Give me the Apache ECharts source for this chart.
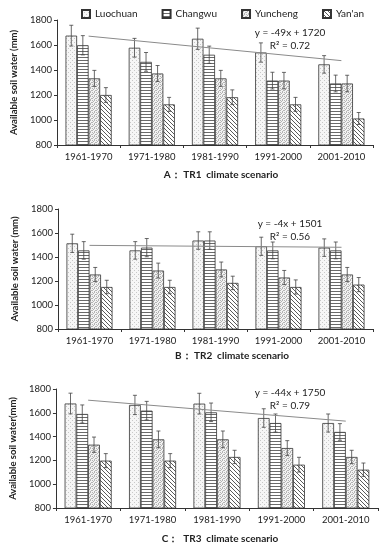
<!DOCTYPE html>
<html><head><meta charset="utf-8">
<script src="https://cdn.jsdelivr.net/npm/echarts@6/dist/echarts.min.js"></script>
<style>html,body{margin:0;padding:0;background:#fff}#c{width:382px;height:550px}</style>
</head><body><div id="c"></div>
<script>
const categories = ['1961-1970','1971-1980','1981-1990','1991-2000','2001-2010'];
const stations = ['Luochuan','Changwu','Yuncheng',"Yan'an"];
const yTicks = [800,1000,1200,1400,1600,1800];

// Panel A (TR1)
const A_Luochuan = [1675, 1578, 1650, 1540, 1445];
const A_Changwu  = [1598, 1465, 1522, 1315, 1292];
const A_Yuncheng = [1333, 1372, 1333, 1315, 1292];
const A_Yanan    = [1200, 1125, 1182, 1125, 1012];
const A_errLuochuan = [83, 75, 85, 77, 70];
const A_errChangwu  = [77, 75, 69, 67, 67];
const A_errYuncheng = [64, 64, 64, 66, 66];
const A_errYanan    = [59, 56, 59, 56, 48];
const A_trend = [1671, 1475];

// Panel B (TR2)
const B_Luochuan = [1514, 1455, 1537, 1489, 1478];
const B_Changwu  = [1455, 1478, 1537, 1455, 1455];
const B_Yuncheng = [1254, 1287, 1296, 1229, 1254];
const B_Yanan    = [1150, 1150, 1184, 1150, 1170];
const B_errLuochuan = [76, 73, 73, 76, 73];
const B_errChangwu  = [73, 76, 73, 70, 70];
const B_errYuncheng = [59, 62, 62, 59, 59];
const B_errYanan    = [56, 56, 56, 59, 59];
const B_trend = [1497, 1481];

// Panel C (TR3)
const C_Luochuan = [1678, 1666, 1677, 1556, 1514];
const C_Changwu  = [1590, 1618, 1604, 1514, 1439];
const C_Yuncheng = [1332, 1377, 1377, 1304, 1229];
const C_Yanan    = [1198, 1198, 1229, 1164, 1122];
const C_errLuochuan = [87, 81, 87, 78, 76];
const C_errChangwu  = [76, 78, 78, 76, 70];
const C_errYuncheng = [64, 70, 70, 62, 56];
const C_errYanan    = [59, 59, 56, 62, 56];
const C_trend = [1706, 1530];

const panels = [
  {vals:[A_Luochuan,A_Changwu,A_Yuncheng,A_Yanan], errs:[A_errLuochuan,A_errChangwu,A_errYuncheng,A_errYanan], trend:A_trend,
   yName:'Available soil water (mm)', caption:'A： TR1  climate scenario', eq:'y = -49x + 1720', r2:'R² = 0.72'},
  {vals:[B_Luochuan,B_Changwu,B_Yuncheng,B_Yanan], errs:[B_errLuochuan,B_errChangwu,B_errYuncheng,B_errYanan], trend:B_trend,
   yName:'Available soil water (mm)', caption:'B： TR2  climate scenario', eq:'y = -4x + 1501', r2:'R² = 0.56'},
  {vals:[C_Luochuan,C_Changwu,C_Yuncheng,C_Yanan], errs:[C_errLuochuan,C_errChangwu,C_errYuncheng,C_errYanan], trend:C_trend,
   yName:'Available soil water(mm)', caption:'C：  TR3  climate scenario', eq:'y = -44x + 1750', r2:'R² = 0.79'}
];

// layout
const grids = [
  {left:57, right:9, top:20, height:125},
  {left:58, right:9, top:209, height:120},
  {left:53, right:4, top:389, height:119}
];
const captionPos = [{x:221,y:170},{x:232,y:351},{x:220,y:534}];
const eqPos = [{x:290,y:28},{x:290,y:219},{x:290,y:388}];
const GAP = 0.27;

function makePattern(kind){
  const c = document.createElement('canvas');
  const s = 4; c.width = s; c.height = s;
  const g = c.getContext('2d');
  g.fillStyle = '#fff'; g.fillRect(0,0,s,s);
  if(kind===0){ g.fillStyle='#f6f6f6'; g.fillRect(0,0,s,s); g.fillStyle='#c8c8c8'; g.fillRect(0,0,1,1); g.fillRect(2,2,1,1); }
  else if(kind===1){ c.height=3; g.fillStyle='#fff'; g.fillRect(0,0,s,3); g.fillStyle='#6a6a6a'; g.fillRect(0,0,s,1); }
  else if(kind===2){ g.fillStyle='#f2f2f2'; g.fillRect(0,0,s,s); g.fillStyle='#b4b4b4'; g.fillRect(0,0,1,1); g.fillRect(2,0,1,1); g.fillRect(1,1,1,1); g.fillRect(3,2,1,1); g.fillRect(0,2,1,1); g.fillRect(2,3,1,1); }
  else { g.fillStyle='#5a5a5a'; for(let i=0;i<s;i++){ g.fillRect(i,i,1,1);} }
  return {image:c, repeat:'repeat'};
}
const patterns = [0,1,2,3].map(makePattern);

const FONT = 'Lato, "Open Sans", sans-serif';
const TXT = '#222';

function errRender(params, api){
  const cat = api.value(0), val = api.value(1), err = api.value(2), si = api.value(3);
  const band = api.size([1,0])[0];
  const total = band*(1-GAP), bw = total/4;
  const cx = api.coord([cat,val])[0] - total/2 + bw*(si+0.5);
  const yT = api.coord([cat,val+err])[1], yB = api.coord([cat,val-err])[1];
  const cap = 2, st = {stroke:'#444', lineWidth:0.8};
  return {type:'group', children:[
    {type:'line', shape:{x1:cx,y1:yT,x2:cx,y2:yB}, style:st},
    {type:'line', shape:{x1:cx-cap,y1:yT,x2:cx+cap,y2:yT}, style:st},
    {type:'line', shape:{x1:cx-cap,y1:yB,x2:cx+cap,y2:yB}, style:st}
  ]};
}

const xAxis=[], yAxis=[], series=[], graphic=[];
panels.forEach((p,pi)=>{
  xAxis.push({type:'category', gridIndex:pi, data:categories,
    axisLine:{lineStyle:{color:'#333',width:1}},
    axisTick:{show:true, alignWithLabel:false, length:3, lineStyle:{color:'#333'}},
    axisLabel:{color:TXT, fontFamily:FONT, fontSize:9.5, margin:7}});
  yAxis.push({type:'value', gridIndex:pi, min:yTicks[0], max:yTicks[yTicks.length-1], interval:200,
    splitLine:{show:false},
    axisLine:{show:true, lineStyle:{color:'#333',width:1}},
    axisTick:{show:true, length:3, lineStyle:{color:'#333'}},
    axisLabel:{color:TXT, fontFamily:FONT, fontSize:9.5, margin:5, formatter:v=>String(v)},
    name:p.yName, nameLocation:'middle', nameRotate:90, nameGap:36,
    nameTextStyle:{color:TXT, fontFamily:FONT, fontSize:9.5, fontWeight:'bold'}});
  stations.forEach((s,si)=>{
    series.push({type:'bar', name:s, xAxisIndex:pi, yAxisIndex:pi, data:p.vals[si],
      barGap:'0%', barCategoryGap:(GAP*100)+'%',
      itemStyle:{color:patterns[si], borderColor:'#333', borderWidth:0.8},
      emphasis:{disabled:true}, animation:false});
  });
  const errData=[];
  stations.forEach((s,si)=>{ p.vals[si].forEach((v,ci)=>errData.push([ci, v, p.errs[si][ci], si])); });
  series.push({type:'custom', name:'err'+pi, xAxisIndex:pi, yAxisIndex:pi, data:errData,
    renderItem:errRender, z:5, animation:false, silent:true});
  series.push({type:'line', name:'trend'+pi, xAxisIndex:pi, yAxisIndex:pi,
    data:[p.trend[0], null, null, null, p.trend[1]], connectNulls:true, symbol:'none',
    lineStyle:{color:'#8a8a8a', width:1}, z:6, animation:false, silent:true});
  graphic.push({type:'text', x:captionPos[pi].x, y:captionPos[pi].y, style:{text:p.caption, font:'bold 10px '+FONT, fill:TXT, textAlign:'center'}});
  graphic.push({type:'text', x:eqPos[pi].x, y:eqPos[pi].y, style:{text:p.eq, font:'10px '+FONT, fill:TXT, textAlign:'center'}});
  graphic.push({type:'text', x:eqPos[pi].x, y:eqPos[pi].y+13, style:{text:p.r2, font:'10px '+FONT, fill:TXT, textAlign:'center'}});
});

const chart = echarts.init(document.getElementById('c'), null, {renderer:'canvas'});
chart.setOption({
  animation:false,
  legend:{data:stations, top:4, left:76, width:306, itemWidth:8, itemHeight:8, itemGap:24, icon:'rect',
    textStyle:{color:TXT, fontFamily:FONT, fontSize:10}, selectedMode:false},
  grid:grids,
  xAxis:xAxis, yAxis:yAxis, series:series, graphic:graphic
});
</script></body></html>
